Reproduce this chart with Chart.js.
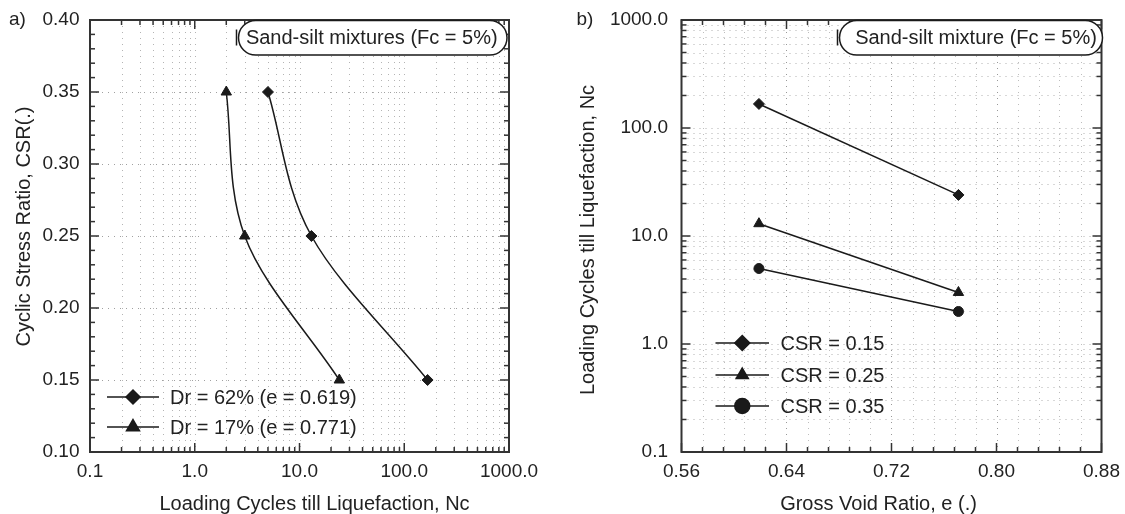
<!DOCTYPE html>
<html>
<head>
<meta charset="utf-8">
<script src="https://cdn.jsdelivr.net/npm/chart.js@4/dist/chart.umd.min.js"></script>
<style>
  html, body { margin: 0; padding: 0; background: #fff; }
  #wrap { position: relative; width: 1125px; height: 514px; overflow: hidden; }
  .box { position: absolute; top: 0; height: 514px; }
  #leftBox { left: 0; width: 560px; }
  #rightBox { left: 560px; width: 600px; }
</style>
</head>
<body>
<div id="wrap">
  <div class="box" id="leftBox"><canvas id="left" width="560" height="514"></canvas></div>
  <div class="box" id="rightBox"><canvas id="right" width="600" height="514"></canvas></div>
</div>
<script>
// ---------------- data ----------------
const csrLevels = [0.35, 0.25, 0.15];
const ncDr62 = [5, 13, 167];      // Dr = 62% (e = 0.619)
const ncDr17 = [2, 3, 24];        // Dr = 17% (e = 0.771)

const voidRatios = [0.619, 0.771];
const ncCsr015 = [167, 24];
const ncCsr025 = [13, 3];
const ncCsr035 = [5, 2];

const leftXTicks = [0.1, 1, 10, 100, 1000];
const leftYTicks = [0.10, 0.15, 0.20, 0.25, 0.30, 0.35, 0.40];
const rightXTicks = [0.56, 0.64, 0.72, 0.80, 0.88];
const rightYTicks = [0.1, 1, 10, 100, 1000];

const leftLabels = ['Dr = 62% (e = 0.619)', 'Dr = 17% (e = 0.771)'];
const rightLabels = ['CSR = 0.15', 'CSR = 0.25', 'CSR = 0.35'];
const leftNote = 'Sand-silt mixtures (Fc = 5%)';
const rightNote = 'Sand-silt mixture (Fc = 5%)';
const leftXTitle = 'Loading Cycles till Liquefaction, Nc';
const leftYTitle = 'Cyclic Stress Ratio, CSR(.)';
const rightXTitle = 'Gross Void Ratio, e (.)';
const rightYTitle = 'Loading Cycles till Liquefaction, Nc';

// ---------------- helpers ----------------
const FONT = "'Liberation Sans', Arial, Helvetica, sans-serif";
const TXT = '#222';
const INK = '#1a1a1a';

function logMinors(majors) {
  const out = [];
  for (let i = 0; i < majors.length - 1; i++) {
    for (let k = 2; k <= 9; k++) out.push(+(majors[i] * k).toPrecision(6));
  }
  return out;
}
function linMinors(majors, n) {
  const out = [];
  for (let i = 0; i < majors.length - 1; i++) {
    const step = (majors[i + 1] - majors[i]) / n;
    for (let k = 1; k < n; k++) out.push(majors[i] + step * k);
  }
  return out;
}
function seg(ctx, x0, y0, x1, y1) { ctx.beginPath(); ctx.moveTo(x0, y0); ctx.lineTo(x1, y1); ctx.stroke(); }

const framePlugin = {
  id: 'frame',
  beforeDatasetsDraw(chart, args, o) {
    const { ctx, chartArea: a } = chart;
    const x = chart.scales.x, y = chart.scales.y;
    ctx.save();
    ctx.lineWidth = 1;
    ctx.setLineDash([1, 5]);
    o.vGrid.forEach(g => {
      ctx.strokeStyle = g.c;
      g.v.forEach(v => {
        const p = Math.round(x.getPixelForValue(v)) + 0.5;
        if (p > a.left + 2 && p < a.right - 2) seg(ctx, p, a.top, p, a.bottom);
      });
    });
    o.hGrid.forEach(g => {
      ctx.strokeStyle = g.c;
      g.v.forEach(v => {
        const p = Math.round(y.getPixelForValue(v)) + 0.5;
        if (p > a.top + 2 && p < a.bottom - 2) seg(ctx, a.left, p, a.right, p);
      });
    });
    ctx.restore();
  },
  afterDatasetsDraw(chart, args, o) {
    const { ctx, chartArea: a } = chart;
    const x = chart.scales.x, y = chart.scales.y;
    ctx.save();
    ctx.setLineDash([]);
    ctx.strokeStyle = '#333';
    ctx.lineWidth = 1.5;
    // ticks, inward, mirrored
    o.xTicks.forEach(t => t.v.forEach(v => {
      const p = x.getPixelForValue(v);
      seg(ctx, p, a.bottom, p, a.bottom - t.len);
      seg(ctx, p, a.top, p, a.top + t.len);
    }));
    o.yTicks.forEach(t => t.v.forEach(v => {
      const p = y.getPixelForValue(v);
      seg(ctx, a.left, p, a.left + t.len, p);
      seg(ctx, a.right, p, a.right - t.len, p);
    }));
    // border
    ctx.lineWidth = 2;
    ctx.strokeStyle = '#333';
    ctx.strokeRect(a.left, a.top, a.right - a.left, a.bottom - a.top);

    // annotation box
    const n = o.note;
    const x0 = a.left + n.dx0, x1 = a.right + n.dx1, y0 = a.top + 0.5, y1 = a.top + n.h;
    const r = (y1 - y0) / 2;
    ctx.beginPath();
    ctx.moveTo(x0 + r, y0);
    ctx.lineTo(x1 - r, y0);
    ctx.arc(x1 - r, y0 + r, r, -Math.PI / 2, Math.PI / 2);
    ctx.lineTo(x0 + r, y1);
    ctx.arc(x0 + r, y0 + r, r, Math.PI / 2, Math.PI * 1.5);
    ctx.closePath();
    ctx.fillStyle = '#fff';
    ctx.fill();
    ctx.lineWidth = 1.5;
    ctx.strokeStyle = INK;
    ctx.stroke();
    seg(ctx, x0 - 2, y0 + 9, x0 - 2, y0 + 25);
    ctx.fillStyle = TXT;
    ctx.font = '20px ' + FONT;
    ctx.textAlign = 'center';
    ctx.textBaseline = 'middle';
    ctx.fillText(n.text, (x0 + x1) / 2 + n.tdx, y0 + r + 1);

    // legend
    const L = o.legend;
    chart.data.datasets.forEach((ds, i) => {
      const yy = a.bottom + L.rows[i];
      const lx0 = a.left + L.x0, lx1 = a.left + L.x1;
      ctx.strokeStyle = INK;
      ctx.lineWidth = 1.5;
      seg(ctx, lx0, yy, lx1, yy);
      ctx.fillStyle = INK;
      Chart.helpers.drawPoint(ctx, { pointStyle: ds.pointStyle, radius: L.radius[i], borderWidth: 1, rotation: 0 }, (lx0 + lx1) / 2, yy);
      ctx.fillStyle = TXT;
      ctx.font = '20px ' + FONT;
      ctx.textAlign = 'left';
      ctx.textBaseline = 'middle';
      ctx.fillText(ds.label, a.left + L.tx, yy + 1);
    });

    // axis titles
    ctx.fillStyle = TXT;
    ctx.font = '20px ' + FONT;
    ctx.textAlign = 'center';
    ctx.textBaseline = 'middle';
    const xt = o.xTitle;
    ctx.fillText(xt.text, (a.left + a.right) / 2 + xt.dx, xt.y);
    const yt = o.yTitle;
    ctx.save();
    ctx.translate(yt.x, (a.top + a.bottom) / 2 + yt.dy);
    ctx.rotate(-Math.PI / 2);
    ctx.fillText(yt.text, 0, 0);
    ctx.restore();

    // panel letter
    ctx.font = '19px ' + FONT;
    ctx.textAlign = 'left';
    ctx.fillText(o.panel.text, o.panel.x, a.top + o.panel.dy);
    ctx.restore();
  }
};

function fixY(w) {
  return s => { s.width = w; s.paddingTop = 0; s.paddingBottom = 0; };
}
function fixX(h) {
  return s => { s.height = h; s.paddingLeft = 0; s.paddingRight = 0; };
}
const tickFont = { family: FONT, size: 19 };

function lineDs(label, xs, ys, style, radius) {
  return {
    label,
    data: xs.map((v, i) => ({ x: v, y: ys[i] })),
    borderColor: INK,
    borderWidth: 1.5,
    backgroundColor: INK,
    pointStyle: style,
    pointRadius: radius,
    pointBackgroundColor: INK,
    pointBorderColor: INK,
    pointBorderWidth: 1,
    fill: false,
    clip: false
  };
}

// ---------------- chart a) ----------------
const dsA1 = lineDs(leftLabels[0], ncDr62, csrLevels, 'rectRot', 5.5);
const dsA2 = lineDs(leftLabels[1], ncDr17, csrLevels, 'triangle', 6);
dsA1.cubicInterpolationMode = 'monotone';
dsA2.cubicInterpolationMode = 'monotone';

new Chart(document.getElementById('left'), {
  type: 'line',
  data: { datasets: [dsA1, dsA2] },
  options: {
    indexAxis: 'y',
    responsive: false,
    animation: false,
    layout: { padding: { left: 0, right: 51, top: 20, bottom: 0 } },
    plugins: {
      legend: { display: false },
      tooltip: { enabled: false },
      frame: {
        vGrid: [{ c: '#b4b4b4', v: logMinors(leftXTicks).concat(leftXTicks) }],
        hGrid: [{ c: '#a0a0a0', v: leftYTicks }],
        xTicks: [{ len: 9, v: leftXTicks }, { len: 5, v: logMinors(leftXTicks) }],
        yTicks: [{ len: 9, v: leftYTicks }, { len: 5, v: linMinors(leftYTicks, 5) }],
        note: { text: leftNote, dx0: 148.5, dx1: -2, h: 35, tdx: -1 },
        legend: { rows: [-55, -25], x0: 17, x1: 69, tx: 80, radius: [7, 7.5] },
        xTitle: { text: leftXTitle, dx: 15, y: 504 },
        yTitle: { text: leftYTitle, x: 24, dy: -9.5 },
        panel: { text: 'a)', x: 9, dy: 0 }
      }
    },
    scales: {
      x: {
        type: 'logarithmic',
        axis: 'x',
        position: 'bottom',
        min: 0.1, max: 1000,
        afterBuildTicks: s => { s.ticks = leftXTicks.map(v => ({ value: v })); },
        afterFit: fixX(62),
        grid: { display: false, drawTicks: false },
        border: { display: false },
        ticks: { font: tickFont, color: TXT, padding: 8, maxRotation: 0, autoSkip: false,
                 callback: v => Number(v).toFixed(1) },
        title: { display: false }
      },
      y: {
        type: 'linear',
        axis: 'y',
        position: 'left',
        reverse: false,
        min: 0.1, max: 0.4,
        afterBuildTicks: s => { s.ticks = leftYTicks.map(v => ({ value: v })); },
        afterFit: fixY(90),
        grid: { display: false, drawTicks: false },
        border: { display: false },
        ticks: { font: tickFont, color: TXT, padding: 10.5, autoSkip: false,
                 callback: v => Number(v).toFixed(2) },
        title: { display: false }
      }
    }
  },
  plugins: [framePlugin]
});

// ---------------- chart b) ----------------
const dsB1 = lineDs(rightLabels[0], voidRatios, ncCsr015, 'rectRot', 5.5);
const dsB2 = lineDs(rightLabels[1], voidRatios, ncCsr025, 'triangle', 6);
const dsB3 = lineDs(rightLabels[2], voidRatios, ncCsr035, 'circle', 5);

new Chart(document.getElementById('right'), {
  type: 'line',
  data: { datasets: [dsB1, dsB2, dsB3] },
  options: {
    responsive: false,
    animation: false,
    layout: { padding: { left: 0, right: 58.5, top: 20, bottom: 0 } },
    plugins: {
      legend: { display: false },
      tooltip: { enabled: false },
      frame: {
        vGrid: [{ c: '#bdbdbd', v: linMinors(rightXTicks, 5) }, { c: '#999', v: rightXTicks }],
        hGrid: [{ c: '#b0b0b0', v: logMinors(rightYTicks).concat(rightYTicks) }],
        xTicks: [{ len: 9, v: rightXTicks }, { len: 5, v: linMinors(rightXTicks, 5) }],
        yTicks: [{ len: 9, v: rightYTicks }, { len: 5, v: logMinors(rightYTicks) }],
        note: { text: rightNote, dx0: 158, dx1: 1, h: 35, tdx: 5 },
        legend: { rows: [-109, -77, -46], x0: 34, x1: 87.5, tx: 99, radius: [7.5, 7, 7.5] },
        xTitle: { text: rightXTitle, dx: -13, y: 504 },
        yTitle: { text: rightYTitle, x: 28, dy: 4 },
        panel: { text: 'b)', x: 16.5, dy: 0 }
      }
    },
    scales: {
      x: {
        type: 'linear',
        min: 0.56, max: 0.88,
        afterBuildTicks: s => { s.ticks = rightXTicks.map(v => ({ value: v })); },
        afterFit: fixX(62),
        grid: { display: false, drawTicks: false },
        border: { display: false },
        ticks: { font: tickFont, color: TXT, padding: 8, maxRotation: 0, autoSkip: false,
                 callback: v => Number(v).toFixed(2) },
        title: { display: false }
      },
      y: {
        type: 'logarithmic',
        min: 0.1, max: 1000,
        afterBuildTicks: s => { s.ticks = rightYTicks.map(v => ({ value: v })); },
        afterFit: fixY(121.5),
        grid: { display: false, drawTicks: false },
        border: { display: false },
        ticks: { font: tickFont, color: TXT, padding: 13.5, autoSkip: false,
                 callback: v => Number(v).toFixed(1) },
        title: { display: false }
      }
    }
  },
  plugins: [framePlugin]
});
</script>
</body>
</html>
